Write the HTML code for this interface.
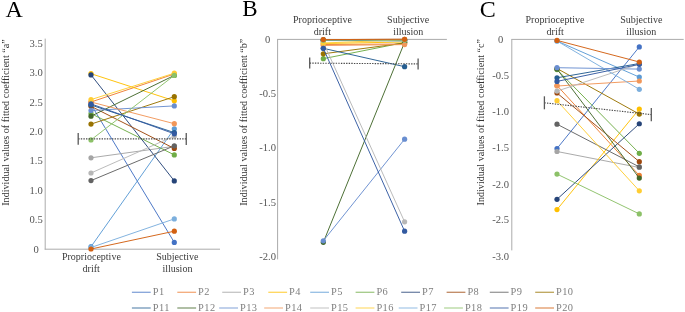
<!DOCTYPE html>
<html><head><meta charset="utf-8"><style>
html,body{margin:0;padding:0;background:#fff;}
svg{display:block;will-change:transform;}
text{font-family:"Liberation Serif",serif;}
</style></head><body>
<svg width="685" height="312" viewBox="0 0 685 312">
<g font-size="24" fill="#000"><text x="5.6" y="17">A</text><text x="242.2" y="15.9" font-size="23">B</text><text x="479.8" y="17.4">C</text></g>
<text transform="translate(8.8,122.5) rotate(-90)" font-size="10.15" fill="#333" text-anchor="middle">Individual values of fitted coefficient &#8220;a&#8221;</text>
<text transform="translate(246.5,122.2) rotate(-90)" font-size="10.15" fill="#333" text-anchor="middle">Individual values of fitted coefficient &#8220;b&#8221;</text>
<text transform="translate(484.2,122.2) rotate(-90)" font-size="10.15" fill="#333" text-anchor="middle">Individual values of fitted coefficient &#8220;c&#8221;</text>
<line x1="45.2" y1="38.6" x2="45.2" y2="249.5" stroke="#ABABAB" stroke-width="1"/>
<line x1="44.7" y1="249.2" x2="220" y2="249.2" stroke="#ABABAB" stroke-width="1"/>
<g font-size="10.6" fill="#555555" text-anchor="middle">
<text x="36.1" y="46.7">3.5</text>
<text x="36.1" y="76.1">3.0</text>
<text x="36.1" y="105.5">2.5</text>
<text x="36.1" y="134.9">2.0</text>
<text x="36.1" y="164.3">1.5</text>
<text x="36.1" y="193.7">1.0</text>
<text x="36.1" y="223.1">0.5</text>
<text x="36.1" y="252.5">0</text>
</g>
<g font-size="10" fill="#3a3a3a" text-anchor="middle"><text x="91.4" y="259.7">Proprioceptive</text><text x="91.2" y="272">drift</text><text x="177.4" y="259.7">Subjective</text><text x="177.4" y="272">illusion</text></g>
<g stroke="#4472C4" fill="#4472C4"><line x1="91.0" y1="104.5" x2="174.3" y2="242.4" stroke-width="0.95"/><circle cx="91.0" cy="104.5" r="2.6" stroke="none"/><circle cx="174.3" cy="242.4" r="2.6" stroke="none"/></g>
<g stroke="#ED7D31" fill="#ED7D31"><line x1="91.0" y1="102.0" x2="174.3" y2="74.0" stroke-width="0.95"/><circle cx="91.0" cy="102.0" r="2.6" stroke="none"/><circle cx="174.3" cy="74.0" r="2.6" stroke="none"/></g>
<g stroke="#A5A5A5" fill="#A5A5A5"><line x1="91.0" y1="157.8" x2="174.3" y2="146.3" stroke-width="0.95"/><circle cx="91.0" cy="157.8" r="2.6" stroke="none"/><circle cx="174.3" cy="146.3" r="2.6" stroke="none"/></g>
<g stroke="#FFC000" fill="#FFC000"><line x1="91.0" y1="73.7" x2="174.3" y2="100.8" stroke-width="0.95"/><circle cx="91.0" cy="73.7" r="2.6" stroke="none"/><circle cx="174.3" cy="100.8" r="2.6" stroke="none"/></g>
<g stroke="#5B9BD5" fill="#5B9BD5"><line x1="91.0" y1="246.7" x2="174.3" y2="128.75" stroke-width="0.95"/><circle cx="91.0" cy="246.7" r="2.6" stroke="none"/><circle cx="174.3" cy="128.75" r="2.6" stroke="none"/></g>
<g stroke="#70AD47" fill="#70AD47"><line x1="91.0" y1="113.6" x2="174.3" y2="154.9" stroke-width="0.95"/><circle cx="91.0" cy="113.6" r="2.6" stroke="none"/><circle cx="174.3" cy="154.9" r="2.6" stroke="none"/></g>
<g stroke="#264478" fill="#264478"><line x1="91.0" y1="74.9" x2="174.3" y2="180.9" stroke-width="0.95"/><circle cx="91.0" cy="74.9" r="2.6" stroke="none"/><circle cx="174.3" cy="180.9" r="2.6" stroke="none"/></g>
<g stroke="#9E480E" fill="#9E480E"><line x1="91.0" y1="106.3" x2="174.3" y2="148.5" stroke-width="0.95"/><circle cx="91.0" cy="106.3" r="2.6" stroke="none"/><circle cx="174.3" cy="148.5" r="2.6" stroke="none"/></g>
<g stroke="#636363" fill="#636363"><line x1="91.0" y1="180.6" x2="174.3" y2="145.8" stroke-width="0.95"/><circle cx="91.0" cy="180.6" r="2.6" stroke="none"/><circle cx="174.3" cy="145.8" r="2.6" stroke="none"/></g>
<g stroke="#997300" fill="#997300"><line x1="91.0" y1="124.1" x2="174.3" y2="96.7" stroke-width="0.95"/><circle cx="91.0" cy="124.1" r="2.6" stroke="none"/><circle cx="174.3" cy="96.7" r="2.6" stroke="none"/></g>
<g stroke="#255E91" fill="#255E91"><line x1="91.0" y1="105.0" x2="174.3" y2="132.6" stroke-width="0.95"/><circle cx="91.0" cy="105.0" r="2.6" stroke="none"/><circle cx="174.3" cy="132.6" r="2.6" stroke="none"/></g>
<g stroke="#43682B" fill="#43682B"><line x1="91.0" y1="116.2" x2="174.3" y2="75.4" stroke-width="0.95"/><circle cx="91.0" cy="116.2" r="2.6" stroke="none"/><circle cx="174.3" cy="75.4" r="2.6" stroke="none"/></g>
<g stroke="#698ED0" fill="#698ED0"><line x1="91.0" y1="110.5" x2="174.3" y2="105.9" stroke-width="0.95"/><circle cx="91.0" cy="110.5" r="2.6" stroke="none"/><circle cx="174.3" cy="105.9" r="2.6" stroke="none"/></g>
<g stroke="#F1975A" fill="#F1975A"><line x1="91.0" y1="102.0" x2="174.3" y2="123.7" stroke-width="0.95"/><circle cx="91.0" cy="102.0" r="2.6" stroke="none"/><circle cx="174.3" cy="123.7" r="2.6" stroke="none"/></g>
<g stroke="#B7B7B7" fill="#B7B7B7"><line x1="91.0" y1="173.0" x2="174.3" y2="136.0" stroke-width="0.95"/><circle cx="91.0" cy="173.0" r="2.6" stroke="none"/><circle cx="174.3" cy="136.0" r="2.6" stroke="none"/></g>
<g stroke="#FFCD33" fill="#FFCD33"><line x1="91.0" y1="99.6" x2="174.3" y2="73.2" stroke-width="0.95"/><circle cx="91.0" cy="99.6" r="2.6" stroke="none"/><circle cx="174.3" cy="73.2" r="2.6" stroke="none"/></g>
<g stroke="#7CAFDD" fill="#7CAFDD"><line x1="91.0" y1="247.5" x2="174.3" y2="218.9" stroke-width="0.95"/><circle cx="91.0" cy="247.5" r="2.6" stroke="none"/><circle cx="174.3" cy="218.9" r="2.6" stroke="none"/></g>
<g stroke="#8CC168" fill="#8CC168"><line x1="91.0" y1="139.9" x2="174.3" y2="75.4" stroke-width="0.95"/><circle cx="91.0" cy="139.9" r="2.6" stroke="none"/><circle cx="174.3" cy="75.4" r="2.6" stroke="none"/></g>
<g stroke="#335AA1" fill="#335AA1"><line x1="91.0" y1="103.9" x2="174.3" y2="133.8" stroke-width="0.95"/><circle cx="91.0" cy="103.9" r="2.6" stroke="none"/><circle cx="174.3" cy="133.8" r="2.6" stroke="none"/></g>
<g stroke="#D26012" fill="#D26012"><line x1="91.0" y1="249.0" x2="174.3" y2="231.2" stroke-width="0.95"/><circle cx="91.0" cy="249.0" r="2.6" stroke="none"/><circle cx="174.3" cy="231.2" r="2.6" stroke="none"/></g>
<line x1="78.2" y1="138.9" x2="186.25" y2="138.9" stroke="#4a4a4a" stroke-width="1.1" stroke-dasharray="1.4 1.2"/><line x1="78.2" y1="133.1" x2="78.2" y2="144.70000000000002" stroke="#595959" stroke-width="1.3"/><line x1="186.25" y1="132.9" x2="186.25" y2="144.9" stroke="#595959" stroke-width="1.3"/>
<line x1="277.6" y1="39.4" x2="277.6" y2="259.4" stroke="#ABABAB" stroke-width="1"/>
<line x1="277.1" y1="39.4" x2="446.9" y2="39.4" stroke="#ABABAB" stroke-width="1"/>
<g font-size="10.6" fill="#555555" text-anchor="middle">
<text x="267.7" y="42.5">0</text>
<text x="267.7" y="96.7">-0.5</text>
<text x="267.7" y="151.1">-1.0</text>
<text x="267.7" y="205.7">-1.5</text>
<text x="267.7" y="259.7">-2.0</text>
</g>
<g font-size="10" fill="#3a3a3a" text-anchor="middle"><text x="322.5" y="22.7">Proprioceptive</text><text x="322.3" y="35">drift</text><text x="408.2" y="22.7">Subjective</text><text x="408.2" y="35">illusion</text></g>
<g stroke="#4472C4" fill="#4472C4"><line x1="323.3" y1="40.5" x2="404.6" y2="40.5" stroke-width="0.95"/><circle cx="323.3" cy="40.5" r="2.6" stroke="none"/><circle cx="404.6" cy="40.5" r="2.6" stroke="none"/></g>
<g stroke="#ED7D31" fill="#ED7D31"><line x1="323.3" y1="44.5" x2="404.6" y2="44.0" stroke-width="0.95"/><circle cx="323.3" cy="44.5" r="2.6" stroke="none"/><circle cx="404.6" cy="44.0" r="2.6" stroke="none"/></g>
<g stroke="#A5A5A5" fill="#A5A5A5"><line x1="323.3" y1="40.0" x2="404.6" y2="40.0" stroke-width="0.95"/><circle cx="323.3" cy="40.0" r="2.6" stroke="none"/><circle cx="404.6" cy="40.0" r="2.6" stroke="none"/></g>
<g stroke="#FFC000" fill="#FFC000"><line x1="323.3" y1="43.5" x2="404.6" y2="42.0" stroke-width="0.95"/><circle cx="323.3" cy="43.5" r="2.6" stroke="none"/><circle cx="404.6" cy="42.0" r="2.6" stroke="none"/></g>
<g stroke="#5B9BD5" fill="#5B9BD5"><line x1="323.3" y1="40.5" x2="404.6" y2="41.0" stroke-width="0.95"/><circle cx="323.3" cy="40.5" r="2.6" stroke="none"/><circle cx="404.6" cy="41.0" r="2.6" stroke="none"/></g>
<g stroke="#70AD47" fill="#70AD47"><line x1="323.3" y1="58.7" x2="404.6" y2="42.5" stroke-width="0.95"/><circle cx="323.3" cy="58.7" r="2.6" stroke="none"/><circle cx="404.6" cy="42.5" r="2.6" stroke="none"/></g>
<g stroke="#264478" fill="#264478"><line x1="323.3" y1="40.0" x2="404.6" y2="40.5" stroke-width="0.95"/><circle cx="323.3" cy="40.0" r="2.6" stroke="none"/><circle cx="404.6" cy="40.5" r="2.6" stroke="none"/></g>
<g stroke="#9E480E" fill="#9E480E"><line x1="323.3" y1="39.6" x2="404.6" y2="39.3" stroke-width="0.95"/><circle cx="323.3" cy="39.6" r="2.6" stroke="none"/><circle cx="404.6" cy="39.3" r="2.6" stroke="none"/></g>
<g stroke="#636363" fill="#636363"><line x1="323.3" y1="40.0" x2="404.6" y2="40.0" stroke-width="0.95"/><circle cx="323.3" cy="40.0" r="2.6" stroke="none"/><circle cx="404.6" cy="40.0" r="2.6" stroke="none"/></g>
<g stroke="#997300" fill="#997300"><line x1="323.3" y1="53.8" x2="404.6" y2="43.0" stroke-width="0.95"/><circle cx="323.3" cy="53.8" r="2.6" stroke="none"/><circle cx="404.6" cy="43.0" r="2.6" stroke="none"/></g>
<g stroke="#255E91" fill="#255E91"><line x1="323.3" y1="48.3" x2="404.6" y2="66.7" stroke-width="0.95"/><circle cx="323.3" cy="48.3" r="2.6" stroke="none"/><circle cx="404.6" cy="66.7" r="2.6" stroke="none"/></g>
<g stroke="#43682B" fill="#43682B"><line x1="323.3" y1="242.3" x2="404.6" y2="42.3" stroke-width="0.95"/><circle cx="323.3" cy="242.3" r="2.6" stroke="none"/><circle cx="404.6" cy="42.3" r="2.6" stroke="none"/></g>
<g stroke="#698ED0" fill="#698ED0"><line x1="323.3" y1="240.8" x2="404.6" y2="139.2" stroke-width="0.95"/><circle cx="323.3" cy="240.8" r="2.6" stroke="none"/><circle cx="404.6" cy="139.2" r="2.6" stroke="none"/></g>
<g stroke="#F1975A" fill="#F1975A"><line x1="323.3" y1="45.5" x2="404.6" y2="44.6" stroke-width="0.95"/><circle cx="323.3" cy="45.5" r="2.6" stroke="none"/><circle cx="404.6" cy="44.6" r="2.6" stroke="none"/></g>
<g stroke="#B7B7B7" fill="#B7B7B7"><line x1="323.3" y1="42.3" x2="404.6" y2="221.8" stroke-width="0.95"/><circle cx="323.3" cy="42.3" r="2.6" stroke="none"/><circle cx="404.6" cy="221.8" r="2.6" stroke="none"/></g>
<g stroke="#FFCD33" fill="#FFCD33"><line x1="323.3" y1="43.0" x2="404.6" y2="39.8" stroke-width="0.95"/><circle cx="323.3" cy="43.0" r="2.6" stroke="none"/><circle cx="404.6" cy="39.8" r="2.6" stroke="none"/></g>
<g stroke="#7CAFDD" fill="#7CAFDD"><line x1="323.3" y1="40.0" x2="404.6" y2="40.0" stroke-width="0.95"/><circle cx="323.3" cy="40.0" r="2.6" stroke="none"/><circle cx="404.6" cy="40.0" r="2.6" stroke="none"/></g>
<g stroke="#8CC168" fill="#8CC168"><line x1="323.3" y1="40.0" x2="404.6" y2="40.0" stroke-width="0.95"/><circle cx="323.3" cy="40.0" r="2.6" stroke="none"/><circle cx="404.6" cy="40.0" r="2.6" stroke="none"/></g>
<g stroke="#335AA1" fill="#335AA1"><line x1="323.3" y1="48.3" x2="404.6" y2="231.2" stroke-width="0.95"/><circle cx="323.3" cy="48.3" r="2.6" stroke="none"/><circle cx="404.6" cy="231.2" r="2.6" stroke="none"/></g>
<g stroke="#D26012" fill="#D26012"><line x1="323.3" y1="39.6" x2="404.6" y2="39.3" stroke-width="0.95"/><circle cx="323.3" cy="39.6" r="2.6" stroke="none"/><circle cx="404.6" cy="39.3" r="2.6" stroke="none"/></g>
<line x1="309.7" y1="63.1" x2="418.1" y2="63.9" stroke="#4a4a4a" stroke-width="1.1" stroke-dasharray="1.4 1.2"/><line x1="309.7" y1="57.6" x2="309.7" y2="68.6" stroke="#595959" stroke-width="1.3"/><line x1="418.1" y1="58.4" x2="418.1" y2="69.4" stroke="#595959" stroke-width="1.3"/>
<line x1="511.8" y1="39.4" x2="511.8" y2="250.4" stroke="#ABABAB" stroke-width="1"/>
<line x1="511.3" y1="39.4" x2="683.7" y2="39.4" stroke="#ABABAB" stroke-width="1"/>
<g font-size="10.6" fill="#555555" text-anchor="middle">
<text x="500.6" y="42.5">0</text>
<text x="500.6" y="79.0">-0.5</text>
<text x="500.6" y="115.2">-1.0</text>
<text x="500.6" y="151.4">-1.5</text>
<text x="500.6" y="187.6">-2.0</text>
<text x="500.6" y="223.4">-2.5</text>
<text x="500.6" y="259.6">-3.0</text>
</g>
<g font-size="10" fill="#3a3a3a" text-anchor="middle"><text x="555" y="22.7">Proprioceptive</text><text x="555.2" y="35">drift</text><text x="641.3" y="22.7">Subjective</text><text x="641.3" y="35">illusion</text></g>
<g stroke="#4472C4" fill="#4472C4"><line x1="557.0" y1="148.5" x2="639.3" y2="46.9" stroke-width="0.95"/><circle cx="557.0" cy="148.5" r="2.6" stroke="none"/><circle cx="639.3" cy="46.9" r="2.6" stroke="none"/></g>
<g stroke="#ED7D31" fill="#ED7D31"><line x1="557.0" y1="85.5" x2="639.3" y2="175.4" stroke-width="0.95"/><circle cx="557.0" cy="85.5" r="2.6" stroke="none"/><circle cx="639.3" cy="175.4" r="2.6" stroke="none"/></g>
<g stroke="#A5A5A5" fill="#A5A5A5"><line x1="557.0" y1="151.5" x2="639.3" y2="167.5" stroke-width="0.95"/><circle cx="557.0" cy="151.5" r="2.6" stroke="none"/><circle cx="639.3" cy="167.5" r="2.6" stroke="none"/></g>
<g stroke="#FFC000" fill="#FFC000"><line x1="557.0" y1="209.6" x2="639.3" y2="109.0" stroke-width="0.95"/><circle cx="557.0" cy="209.6" r="2.6" stroke="none"/><circle cx="639.3" cy="109.0" r="2.6" stroke="none"/></g>
<g stroke="#5B9BD5" fill="#5B9BD5"><line x1="557.0" y1="41.0" x2="639.3" y2="77.1" stroke-width="0.95"/><circle cx="557.0" cy="41.0" r="2.6" stroke="none"/><circle cx="639.3" cy="77.1" r="2.6" stroke="none"/></g>
<g stroke="#70AD47" fill="#70AD47"><line x1="557.0" y1="69.6" x2="639.3" y2="153.3" stroke-width="0.95"/><circle cx="557.0" cy="69.6" r="2.6" stroke="none"/><circle cx="639.3" cy="153.3" r="2.6" stroke="none"/></g>
<g stroke="#264478" fill="#264478"><line x1="557.0" y1="199.3" x2="639.3" y2="123.75" stroke-width="0.95"/><circle cx="557.0" cy="199.3" r="2.6" stroke="none"/><circle cx="639.3" cy="123.75" r="2.6" stroke="none"/></g>
<g stroke="#9E480E" fill="#9E480E"><line x1="557.0" y1="93.0" x2="639.3" y2="161.7" stroke-width="0.95"/><circle cx="557.0" cy="93.0" r="2.6" stroke="none"/><circle cx="639.3" cy="161.7" r="2.6" stroke="none"/></g>
<g stroke="#636363" fill="#636363"><line x1="557.0" y1="124.2" x2="639.3" y2="166.9" stroke-width="0.95"/><circle cx="557.0" cy="124.2" r="2.6" stroke="none"/><circle cx="639.3" cy="166.9" r="2.6" stroke="none"/></g>
<g stroke="#997300" fill="#997300"><line x1="557.0" y1="68.5" x2="639.3" y2="114.1" stroke-width="0.95"/><circle cx="557.0" cy="68.5" r="2.6" stroke="none"/><circle cx="639.3" cy="114.1" r="2.6" stroke="none"/></g>
<g stroke="#255E91" fill="#255E91"><line x1="557.0" y1="77.8" x2="639.3" y2="63.5" stroke-width="0.95"/><circle cx="557.0" cy="77.8" r="2.6" stroke="none"/><circle cx="639.3" cy="63.5" r="2.6" stroke="none"/></g>
<g stroke="#43682B" fill="#43682B"><line x1="557.0" y1="69.0" x2="639.3" y2="178.1" stroke-width="0.95"/><circle cx="557.0" cy="69.0" r="2.6" stroke="none"/><circle cx="639.3" cy="178.1" r="2.6" stroke="none"/></g>
<g stroke="#698ED0" fill="#698ED0"><line x1="557.0" y1="67.7" x2="639.3" y2="69.1" stroke-width="0.95"/><circle cx="557.0" cy="67.7" r="2.6" stroke="none"/><circle cx="639.3" cy="69.1" r="2.6" stroke="none"/></g>
<g stroke="#F1975A" fill="#F1975A"><line x1="557.0" y1="86.0" x2="639.3" y2="81.0" stroke-width="0.95"/><circle cx="557.0" cy="86.0" r="2.6" stroke="none"/><circle cx="639.3" cy="81.0" r="2.6" stroke="none"/></g>
<g stroke="#B7B7B7" fill="#B7B7B7"><line x1="557.0" y1="91.1" x2="639.3" y2="64.0" stroke-width="0.95"/><circle cx="557.0" cy="91.1" r="2.6" stroke="none"/><circle cx="639.3" cy="64.0" r="2.6" stroke="none"/></g>
<g stroke="#FFCD33" fill="#FFCD33"><line x1="557.0" y1="100.7" x2="639.3" y2="190.8" stroke-width="0.95"/><circle cx="557.0" cy="100.7" r="2.6" stroke="none"/><circle cx="639.3" cy="190.8" r="2.6" stroke="none"/></g>
<g stroke="#7CAFDD" fill="#7CAFDD"><line x1="557.0" y1="41.0" x2="639.3" y2="89.3" stroke-width="0.95"/><circle cx="557.0" cy="41.0" r="2.6" stroke="none"/><circle cx="639.3" cy="89.3" r="2.6" stroke="none"/></g>
<g stroke="#8CC168" fill="#8CC168"><line x1="557.0" y1="174.1" x2="639.3" y2="213.9" stroke-width="0.95"/><circle cx="557.0" cy="174.1" r="2.6" stroke="none"/><circle cx="639.3" cy="213.9" r="2.6" stroke="none"/></g>
<g stroke="#335AA1" fill="#335AA1"><line x1="557.0" y1="81.4" x2="639.3" y2="64.3" stroke-width="0.95"/><circle cx="557.0" cy="81.4" r="2.6" stroke="none"/><circle cx="639.3" cy="64.3" r="2.6" stroke="none"/></g>
<g stroke="#D26012" fill="#D26012"><line x1="557.0" y1="40.4" x2="639.3" y2="62.0" stroke-width="0.95"/><circle cx="557.0" cy="40.4" r="2.6" stroke="none"/><circle cx="639.3" cy="62.0" r="2.6" stroke="none"/></g>
<line x1="544.4" y1="102.8" x2="651.3" y2="114.6" stroke="#4a4a4a" stroke-width="1.1" stroke-dasharray="1.4 1.2"/><line x1="544.4" y1="96.3" x2="544.4" y2="109.3" stroke="#595959" stroke-width="1.3"/><line x1="651.3" y1="107.89999999999999" x2="651.3" y2="121.3" stroke="#595959" stroke-width="1.3"/>
<g font-size="10.4" fill="#7F7F7F" letter-spacing="0.45">
<line x1="131.9" y1="292.3" x2="150.70000000000002" y2="292.3" stroke="#4472C4" stroke-width="1.3" opacity="0.65"/><text x="152.70000000000002" y="294.9">P1</text>
<line x1="177.3" y1="292.3" x2="196.10000000000002" y2="292.3" stroke="#ED7D31" stroke-width="1.3" opacity="0.65"/><text x="198.10000000000002" y="294.9">P2</text>
<line x1="222.2" y1="292.3" x2="241.0" y2="292.3" stroke="#A5A5A5" stroke-width="1.3" opacity="0.65"/><text x="243.0" y="294.9">P3</text>
<line x1="268.3" y1="292.3" x2="287.1" y2="292.3" stroke="#FFC000" stroke-width="1.3" opacity="0.65"/><text x="289.1" y="294.9">P4</text>
<line x1="310.2" y1="292.3" x2="329.0" y2="292.3" stroke="#5B9BD5" stroke-width="1.3" opacity="0.65"/><text x="331.0" y="294.9">P5</text>
<line x1="355.6" y1="292.3" x2="374.40000000000003" y2="292.3" stroke="#70AD47" stroke-width="1.3" opacity="0.65"/><text x="376.40000000000003" y="294.9">P6</text>
<line x1="401.2" y1="292.3" x2="420.0" y2="292.3" stroke="#264478" stroke-width="1.3" opacity="0.65"/><text x="422.0" y="294.9">P7</text>
<line x1="446.6" y1="292.3" x2="465.40000000000003" y2="292.3" stroke="#9E480E" stroke-width="1.3" opacity="0.65"/><text x="467.40000000000003" y="294.9">P8</text>
<line x1="489.8" y1="292.3" x2="508.6" y2="292.3" stroke="#636363" stroke-width="1.3" opacity="0.65"/><text x="510.6" y="294.9">P9</text>
<line x1="535.2" y1="292.3" x2="554.0" y2="292.3" stroke="#997300" stroke-width="1.3" opacity="0.65"/><text x="556.0" y="294.9">P10</text>
<line x1="131.9" y1="308" x2="150.70000000000002" y2="308" stroke="#255E91" stroke-width="1.3" opacity="0.65"/><text x="152.70000000000002" y="310.9">P11</text>
<line x1="177.3" y1="308" x2="196.10000000000002" y2="308" stroke="#43682B" stroke-width="1.3" opacity="0.65"/><text x="198.10000000000002" y="310.9">P12</text>
<line x1="219.2" y1="308" x2="238.0" y2="308" stroke="#698ED0" stroke-width="1.3" opacity="0.65"/><text x="240.0" y="310.9">P13</text>
<line x1="264.2" y1="308" x2="283.0" y2="308" stroke="#F1975A" stroke-width="1.3" opacity="0.65"/><text x="285.0" y="310.9">P14</text>
<line x1="310.2" y1="308" x2="329.0" y2="308" stroke="#B7B7B7" stroke-width="1.3" opacity="0.65"/><text x="331.0" y="310.9">P15</text>
<line x1="355.6" y1="308" x2="374.40000000000003" y2="308" stroke="#FFCD33" stroke-width="1.3" opacity="0.65"/><text x="376.40000000000003" y="310.9">P16</text>
<line x1="398.7" y1="308" x2="417.5" y2="308" stroke="#7CAFDD" stroke-width="1.3" opacity="0.65"/><text x="419.5" y="310.9">P17</text>
<line x1="444.1" y1="308" x2="462.90000000000003" y2="308" stroke="#8CC168" stroke-width="1.3" opacity="0.65"/><text x="464.90000000000003" y="310.9">P18</text>
<line x1="489.8" y1="308" x2="508.6" y2="308" stroke="#335AA1" stroke-width="1.3" opacity="0.65"/><text x="510.6" y="310.9">P19</text>
<line x1="535.2" y1="308" x2="554.0" y2="308" stroke="#D26012" stroke-width="1.3" opacity="0.65"/><text x="556.0" y="310.9">P20</text>
</g>
</svg></body></html>
